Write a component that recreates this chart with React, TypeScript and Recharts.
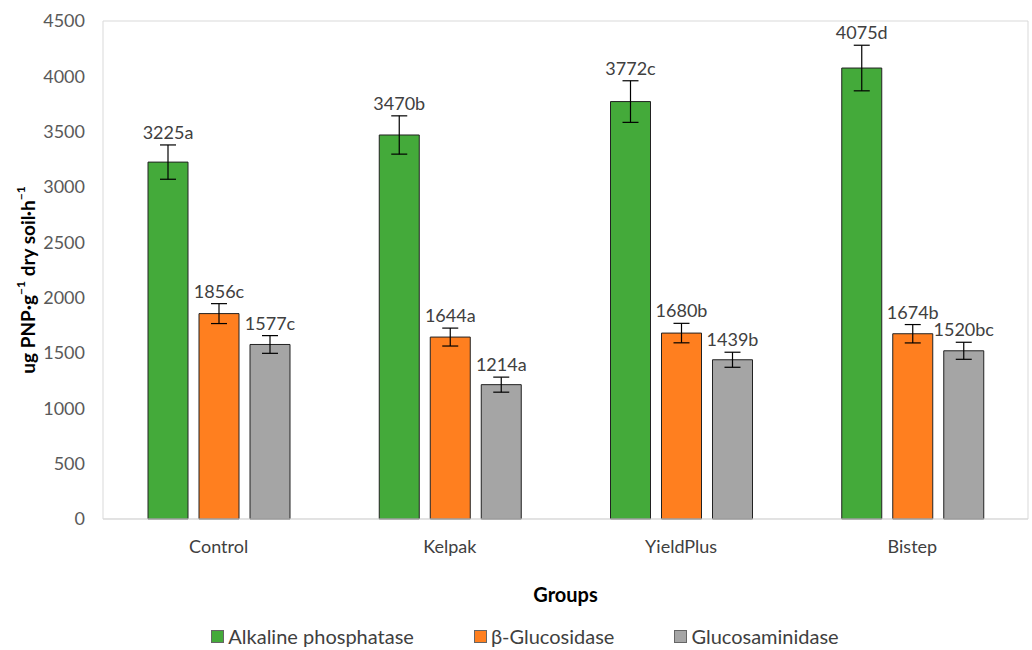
import React from 'react';
import { BarChart, Bar, XAxis, YAxis, CartesianGrid, ErrorBar, LabelList, Legend } from 'recharts';

const groups = ['Control', 'Kelpak', 'YieldPlus', 'Bistep'];

const alkaline = [3225, 3470, 3772, 4075];
const glucosidase = [1856, 1644, 1680, 1674];
const glucosaminidase = [1577, 1214, 1439, 1520];

// standard errors
const alkalineErr = [155, 173, 188, 206];
const glucosidaseErr = [90, 81, 88, 83];
const glucosaminidaseErr = [80, 68, 68, 77];

// significance letters after the values
const alkalineLetters = ['a', 'b', 'c', 'd'];
const glucosidaseLetters = ['c', 'a', 'b', 'b'];
const glucosaminidaseLetters = ['c', 'a', 'b', 'bc'];

const seriesNames = ['Alkaline phosphatase', 'β-Glucosidase', 'Glucosaminidase'];
const yTicks = [0, 500, 1000, 1500, 2000, 2500, 3000, 3500, 4000, 4500];

const COLORS = ['#44AA3A', '#FF7F1F', '#A5A5A5'];
const FONT = 'Lato, "Noto Sans", sans-serif';

const data = groups.map((g, i) => ({
    group: g,
    alk: alkaline[i],
    alkErr: alkalineErr[i],
    glc: glucosidase[i],
    glcErr: glucosidaseErr[i],
    gam: glucosaminidase[i],
    gamErr: glucosaminidaseErr[i],
}));

// label sits just above the top of the error whisker
const makeLabel = (letters: string[], errs: number[]) => (props: any) => {
    const x = Number(props.x);
    const y = Number(props.y);
    const width = Number(props.width);
    const height = Number(props.height);
    const value = Number(props.value);
    const index = props.index;
    const pxPerUnit = value ? height / value : 0;
    const whiskerTop = y - errs[index] * pxPerUnit;
    return (
        <text
            x={x + width / 2}
            y={whiskerTop - 13}
            textAnchor="middle"
            dominantBaseline="central"
            fontFamily={FONT}
            fontSize={18}
            fill="#404040"
        >
            {`${value}${letters[index]}`}
        </text>
    );
};

const YTitle = (props: any) => {
    const vb = props.viewBox || {};
    const cx = (vb.x || 0) + 27;
    const cy = (vb.y || 0) + (vb.height || 0) / 2 + 10;
    return (
        <text
            x={cx}
            y={cy}
            transform={`rotate(-90, ${cx}, ${cy})`}
            textAnchor="middle"
            dominantBaseline="central"
            fontFamily={FONT}
            fontSize={19}
            fontWeight="bold"
            fill="#000"
        >
            ug PNP·g<tspan dy={-7} fontSize={12}>−1</tspan>
            <tspan dy={7}> dry soil·h</tspan>
            <tspan dy={-7} fontSize={12}>−1</tspan>
        </text>
    );
};

const LegendBox = () => (
    <div
        style={{
            display: 'flex',
            justifyContent: 'center',
            alignItems: 'center',
            gap: 60,
            height: 28,
            paddingLeft: 22,
            fontFamily: FONT,
            fontSize: 20,
            color: '#404040',
        }}
    >
        {seriesNames.map((name, i) => (
            <div key={name} style={{ display: 'flex', alignItems: 'center', gap: 4 }}>
                <span
                    style={{
                        display: 'inline-block',
                        width: 11,
                        height: 11,
                        background: COLORS[i],
                        border: '1px solid #666',
                    }}
                />
                <span>{name}</span>
            </div>
        ))}
    </div>
);

export default function App() {
    return (
        <div style={{ position: 'absolute', left: 0, top: 0, width: 1032, height: 650, background: '#fff' }}>
            <BarChart
                width={1032}
                height={650}
                data={data}
                margin={{ top: 21, right: 4, left: 0, bottom: 0 }}
                barGap={11}
            >
                <CartesianGrid
                    stroke="#D9D9D9"
                    horizontalCoordinatesGenerator={({ offset }: any) => [offset.top, offset.top + offset.height]}
                    verticalCoordinatesGenerator={({ offset }: any) => [offset.left, offset.left + offset.width]}
                />
                <XAxis
                    dataKey="group"
                    height={103}
                    tickSize={0}
                    tickMargin={21}
                    axisLine={{ stroke: '#D9D9D9' }}
                    tick={{ fontFamily: FONT, fontSize: 18, fill: '#404040' }}
                    label={{
                        value: 'Groups',
                        position: 'insideBottom',
                        offset: 20,
                        fontFamily: FONT,
                        fontSize: 20,
                        fontWeight: 'bold',
                        fill: '#000',
                    }}
                />
                <YAxis
                    width={103}
                    domain={[0, 4500]}
                    ticks={yTicks}
                    tickSize={0}
                    tickMargin={18}
                    axisLine={false}
                    tick={{ fontFamily: FONT, fontSize: 18, fill: '#595959' }}
                    label={<YTitle />}
                />
                <Legend verticalAlign="bottom" content={<LegendBox />} />
                <Bar dataKey="alk" name={seriesNames[0]} fill={COLORS[0]} stroke="#222" strokeWidth={1} barSize={40} isAnimationActive={false}>
                    <ErrorBar dataKey="alkErr" width={8} stroke="#000" strokeWidth={1.2} />
                    <LabelList dataKey="alk" content={makeLabel(alkalineLetters, alkalineErr)} />
                </Bar>
                <Bar dataKey="glc" name={seriesNames[1]} fill={COLORS[1]} stroke="#222" strokeWidth={1} barSize={40} isAnimationActive={false}>
                    <ErrorBar dataKey="glcErr" width={8} stroke="#000" strokeWidth={1.2} />
                    <LabelList dataKey="glc" content={makeLabel(glucosidaseLetters, glucosidaseErr)} />
                </Bar>
                <Bar dataKey="gam" name={seriesNames[2]} fill={COLORS[2]} stroke="#222" strokeWidth={1} barSize={40} isAnimationActive={false}>
                    <ErrorBar dataKey="gamErr" width={8} stroke="#000" strokeWidth={1.2} />
                    <LabelList dataKey="gam" content={makeLabel(glucosaminidaseLetters, glucosaminidaseErr)} />
                </Bar>
            </BarChart>
        </div>
    );
}
